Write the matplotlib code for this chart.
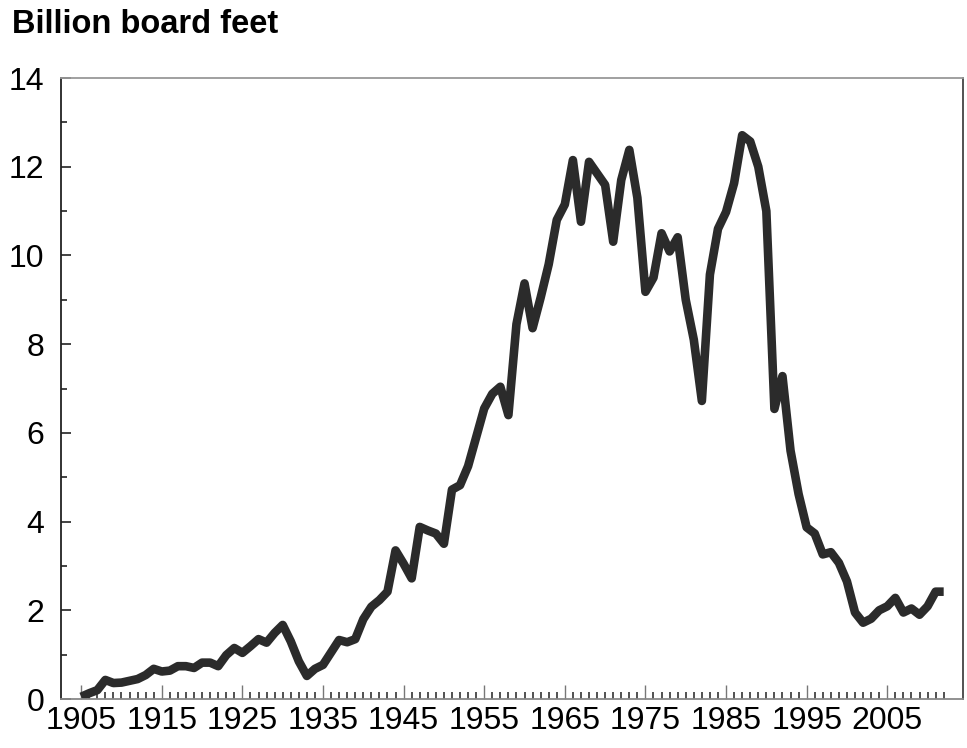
#!/usr/bin/env python3
"""
Annual timber harvest, billion board feet, 1905-2012.
"""
import matplotlib
matplotlib.use("Agg")
import matplotlib.pyplot as plt
from matplotlib.ticker import FixedLocator, MultipleLocator

years = list(range(1905, 2013))
harvest = [
    0.05, 0.13, 0.20, 0.43, 0.36, 0.37, 0.41, 0.45, 0.54, 0.68,   # 1905-1914
    0.62, 0.64, 0.74, 0.74, 0.70, 0.82, 0.82, 0.74, 0.99, 1.15,   # 1915-1924
    1.04, 1.19, 1.35, 1.27, 1.49, 1.67, 1.30, 0.85, 0.52, 0.68,   # 1925-1934
    0.77, 1.05, 1.33, 1.28, 1.35, 1.80, 2.08, 2.23, 2.42, 3.35,   # 1935-1944
    3.05, 2.72, 3.88, 3.80, 3.73, 3.50, 4.72, 4.82, 5.25, 5.90,   # 1945-1954
    6.55, 6.88, 7.04, 6.40, 8.45, 9.37, 8.36, 9.05, 9.80, 10.80,  # 1955-1964
    11.15, 12.15, 10.76, 12.11, 11.85, 11.59, 10.31, 11.70, 12.38, 11.30,  # 1965-1974
    9.18, 9.50, 10.50, 10.09, 10.41, 9.00, 8.10, 6.72, 9.57, 10.60,  # 1975-1984
    10.98, 11.63, 12.71, 12.57, 12.00, 11.00, 6.54, 7.28, 5.60, 4.62,  # 1985-1994
    3.87, 3.73, 3.26, 3.31, 3.07, 2.65, 1.95, 1.72, 1.81, 2.00,   # 1995-2004
    2.09, 2.28, 1.95, 2.04, 1.90, 2.09, 2.42, 2.42,               # 2005-2012
]
year_ticks = list(range(1905, 2006, 10))
value_ticks = list(range(0, 15, 2))

plt.rcParams["font.family"] = ["Liberation Sans", "DejaVu Sans"]

fig = plt.figure(figsize=(9.67, 7.48), dpi=100)
ax = fig.add_axes([0.0631, 0.0655, 0.9328, 0.8302])

ax.plot(years, harvest, color="#2b2b2b", lw=6.2, solid_joinstyle="round", solid_capstyle="butt")

ax.set_xlim(1902.5, 2014.4)
ax.set_ylim(0, 14)
ax.set_xticks(year_ticks)
ax.set_xticklabels([str(y) for y in year_ticks])
ax.xaxis.set_minor_locator(FixedLocator(years))
ax.set_yticks(value_ticks)
ax.yaxis.set_minor_locator(MultipleLocator(1))

ax.tick_params(axis="x", which="major", direction="in", length=10, width=1, color="#777777",
               labelsize=23, pad=5)
ax.tick_params(axis="x", which="minor", direction="in", length=5, width=1.2, color="#333333")
ax.tick_params(axis="y", which="major", direction="in", length=7.5, width=1.2, color="#222222",
               labelsize=23, pad=12)
ax.tick_params(axis="y", which="minor", direction="in", length=4, width=1.2, color="#222222")

ax.spines["left"].set_color("#222222")
ax.spines["left"].set_linewidth(1.3)
ax.spines["bottom"].set_color("#888888")
ax.spines["bottom"].set_linewidth(1.3)
ax.spines["top"].set_color("#999999")
ax.spines["top"].set_linewidth(1.3)
ax.spines["right"].set_color("#444444")
ax.spines["right"].set_linewidth(1.3)

fig.text(12 / 967, 1 - 33 / 748, "Billion board feet", fontsize=23.5, fontweight="bold",
         ha="left", va="baseline")

fig.savefig("out.png", dpi=100)
plt.close(fig)
